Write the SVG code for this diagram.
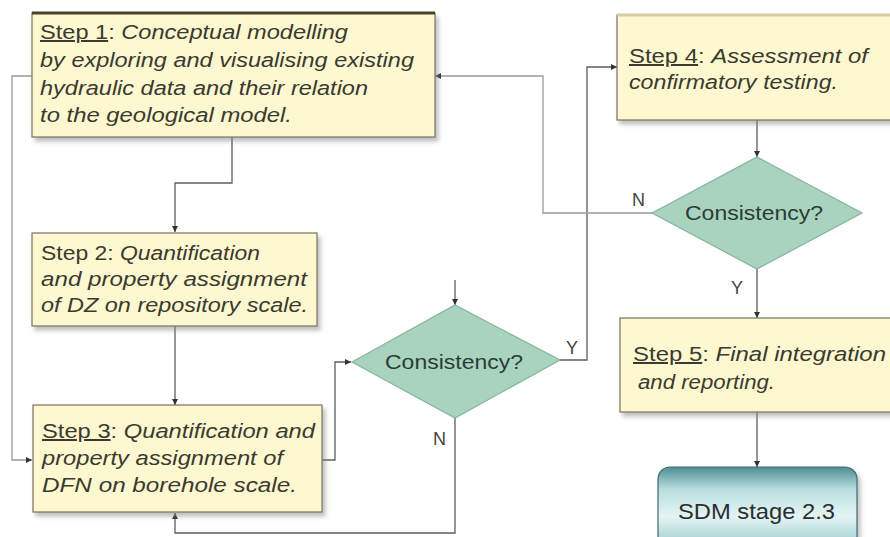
<svg xmlns="http://www.w3.org/2000/svg" width="890" height="537" viewBox="0 0 890 537">
<style>
.box{fill:#fdf8d0;stroke:#7a735e;stroke-width:1.2}
.t{font-family:"Liberation Sans",Arial,sans-serif;font-size:20px;fill:#3b3a30}
.i{font-style:italic}
.u{text-decoration:underline}
.dia{fill:#a7d3bf;stroke:#86b3a0;stroke-width:1.2}
.dt{font-family:"Liberation Sans",Arial,sans-serif;font-size:20px;fill:#2e3b34}
.lbl{font-family:"Liberation Sans",Arial,sans-serif;font-size:18px;fill:#444}
.c{fill:none;stroke:#5e5e5e;stroke-width:1.3}
.cl{fill:none;stroke:#9a9a9a;stroke-width:1.3}
</style>
<defs>
<marker id="ah" markerUnits="userSpaceOnUse" markerWidth="7" markerHeight="7" refX="6" refY="3.5" orient="auto">
<path d="M0,0.5 L6,3.5 L0,6.5 z" fill="#333"/>
</marker>
<filter id="sh" x="-10%" y="-10%" width="130%" height="140%">
<feDropShadow dx="3" dy="4" stdDeviation="2" flood-color="#8a8a8a" flood-opacity="0.55"/>
</filter>
<linearGradient id="sdm" x1="0" y1="0" x2="0" y2="1">
<stop offset="0" stop-color="#4f8d94"/>
<stop offset="0.25" stop-color="#b9dfe0"/>
<stop offset="0.55" stop-color="#e4f4f3"/>
<stop offset="0.85" stop-color="#a3d0d4"/>
<stop offset="1" stop-color="#6aa7ad"/>
</linearGradient>
</defs>
<rect width="890" height="537" fill="#ffffff"/>

<g id="connectors">
<path class="cl" d="M32,76 H12 V460 H32" marker-end="url(#ah)"/>
<path class="c" d="M232,137 V183 H175 V232" marker-end="url(#ah)"/>
<path class="c" d="M175,326 V405" marker-end="url(#ah)"/>
<path class="c" d="M322,460 H335 V362 H351" marker-end="url(#ah)"/>
<path class="c" d="M455,418 V533 H175 V513" marker-end="url(#ah)"/>
<path class="c" d="M455,280 V305" marker-end="url(#ah)"/>
<path class="c" d="M560,360 H587 V67 H617" marker-end="url(#ah)"/>
<path class="c" d="M757,120 V157" marker-end="url(#ah)"/>
<path class="cl" d="M652,213 H543 V76 H435" marker-end="url(#ah)"/>
<path class="c" d="M757,269 V318" marker-end="url(#ah)"/>
<path class="c" d="M757,412 V467" marker-end="url(#ah)"/>
<text class="lbl" x="632" y="206">N</text>
<text class="lbl" x="731" y="294">Y</text>
<text class="lbl" x="566" y="354">Y</text>
<text class="lbl" x="433" y="445">N</text>
</g>

<g id="step1">
<rect class="box" x="32" y="13" width="403" height="124" filter="url(#sh)"/>
<line x1="32" y1="13" x2="435" y2="13" stroke="#4a4328" stroke-width="3"/>
<text class="t" x="40" y="39" textLength="308" lengthAdjust="spacingAndGlyphs"><tspan class="u">Step 1</tspan>: <tspan class="i">Conceptual modelling</tspan></text>
<text class="t i" x="40" y="67" textLength="374" lengthAdjust="spacingAndGlyphs">by exploring and visualising existing</text>
<text class="t i" x="40" y="95" textLength="328" lengthAdjust="spacingAndGlyphs">hydraulic data and their relation</text>
<text class="t i" x="40" y="122" textLength="252" lengthAdjust="spacingAndGlyphs">to the geological model.</text>
</g>

<g id="step2">
<rect class="box" x="32" y="233" width="285" height="93" filter="url(#sh)"/>
<text class="t" x="41" y="260" textLength="219" lengthAdjust="spacingAndGlyphs">Step 2: <tspan class="i">Quantification</tspan></text>
<text class="t i" x="41" y="286" textLength="266" lengthAdjust="spacingAndGlyphs">and property assignment</text>
<text class="t i" x="41" y="312" textLength="267" lengthAdjust="spacingAndGlyphs">of DZ on repository scale.</text>
</g>

<g id="step3">
<rect class="box" x="33" y="405" width="289" height="107" filter="url(#sh)"/>
<text class="t" x="42" y="438" textLength="273" lengthAdjust="spacingAndGlyphs"><tspan class="u">Step 3</tspan>: <tspan class="i">Quantification and</tspan></text>
<text class="t i" x="42" y="465" textLength="241" lengthAdjust="spacingAndGlyphs">property assignment of</text>
<text class="t i" x="42" y="492" textLength="255" lengthAdjust="spacingAndGlyphs">DFN on borehole scale.</text>
</g>

<g id="step4">
<rect class="box" x="617" y="15" width="280" height="105" filter="url(#sh)"/>
<line x1="617" y1="15" x2="890" y2="15" stroke="#d6ccaa" stroke-width="3"/>
<text class="t" x="629" y="63" textLength="239" lengthAdjust="spacingAndGlyphs"><tspan class="u">Step 4</tspan>: <tspan class="i">Assessment of</tspan></text>
<text class="t i" x="629" y="89" textLength="209" lengthAdjust="spacingAndGlyphs">confirmatory testing.</text>
</g>

<g id="decision1">
<polygon class="dia" points="352,362 455,305 560,360 455,418"/>
<text class="dt" x="385" y="369" textLength="138" lengthAdjust="spacingAndGlyphs">Consistency?</text>
</g>

<g id="decision2">
<polygon class="dia" points="652,213 757,157 862,213 757,269"/>
<text class="dt" x="685" y="220" textLength="138" lengthAdjust="spacingAndGlyphs">Consistency?</text>
</g>

<g id="step5">
<rect class="box" x="620" y="318" width="280" height="94" filter="url(#sh)"/>
<text class="t" x="633" y="361" textLength="253" lengthAdjust="spacingAndGlyphs"><tspan class="u">Step 5</tspan>: <tspan class="i">Final integration</tspan></text>
<text class="t i" x="638" y="389" textLength="137" lengthAdjust="spacingAndGlyphs">and reporting.</text>
</g>

<g id="sdm">
<rect x="658" y="467" width="199" height="90" rx="12" fill="url(#sdm)" stroke="#3f6d72" stroke-width="1.2" filter="url(#sh)"/>
<text x="678" y="519" font-family="'Liberation Sans',Arial,sans-serif" font-size="22" fill="#2b2f30" textLength="157" lengthAdjust="spacingAndGlyphs">SDM stage 2.3</text>
</g>
</svg>
